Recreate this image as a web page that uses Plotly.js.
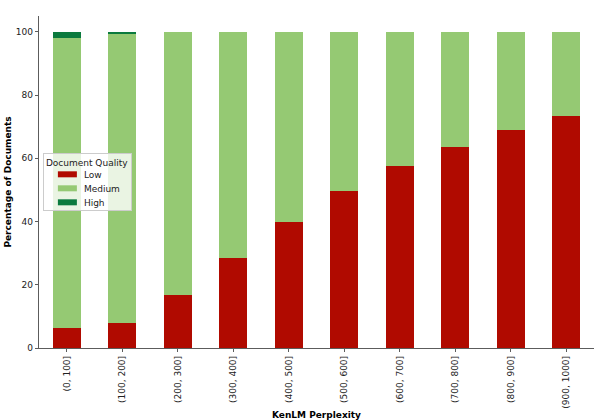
<!DOCTYPE html>
<html>
<head>
<meta charset="utf-8">
<script src="https://cdn.plot.ly/plotly-3.0.1.min.js"></script>
<style>html,body{margin:0;padding:0;background:#fff;}#chart{width:597px;height:420px;}</style>
</head>
<body>
<div id="chart"></div>
<script>
const categories = ["(0, 100]", "(100, 200]", "(200, 300]", "(300, 400]", "(400, 500]", "(500, 600]", "(600, 700]", "(700, 800]", "(800, 900]", "(900, 1000]"];
const lowValues = [6.2, 7.9, 16.9, 28.5, 39.8, 49.6, 57.6, 63.6, 68.8, 73.4];
const mediumValues = [91.9, 91.5, 82.9, 71.45, 60.2, 50.4, 42.4, 36.4, 31.2, 26.6];
const highValues = [1.9, 0.6, 0.2, 0.05, 0, 0, 0, 0, 0, 0];
const seriesNames = ["Low", "Medium", "High"];
const seriesColors = ["#b00a00", "#95c973", "#0b7a3e"];

const font = "DejaVu Sans, sans-serif";
const vals = [lowValues, mediumValues, highValues];
const traces = vals.map((v, i) => ({
  type: "bar",
  name: seriesNames[i],
  x: categories,
  y: v,
  width: 0.5,
  marker: {color: seriesColors[i], line: {width: 0}},
  hoverinfo: "skip"
}));

const layout = {
  width: 597, height: 420,
  barmode: "stack",
  margin: {l: 39, r: 3, t: 16, b: 72},
  paper_bgcolor: "#fff", plot_bgcolor: "#fff",
  font: {family: font, size: 9, color: "#000"},
  xaxis: {
    range: [-0.5, 9.5],
    tickangle: -90,
    ticks: "outside", ticklen: 3.5, tickcolor: "#333", tickwidth: 0.8,
    showline: true, linecolor: "#333", linewidth: 0.8,
    showgrid: false, zeroline: false,
    tickfont: {family: font, size: 9, color: "#222"},
    title: {text: "<b>KenLM Perplexity</b>", font: {family: font, size: 9, color: "#000"}, standoff: 7}
  },
  yaxis: {
    range: [0, 105],
    tickvals: [0, 20, 40, 60, 80, 100],
    ticks: "outside", ticklen: 3.5, tickcolor: "#333", tickwidth: 0.8,
    showline: true, linecolor: "#333", linewidth: 0.8,
    showgrid: false, zeroline: false,
    tickfont: {family: font, size: 9, color: "#222"},
    title: {text: "<b>Percentage of Documents</b>", font: {family: font, size: 9, color: "#000"}, standoff: 2}
  },
  legend: {
    x: 0.007, y: 0.587, xanchor: "left", yanchor: "top",
    bgcolor: "rgba(255,255,255,0.8)", bordercolor: "#ccc", borderwidth: 1,
    traceorder: "normal",
    title: {text: "Document Quality", font: {family: font, size: 9, color: "#222"}},
    font: {family: font, size: 9, color: "#222"},
    itemwidth: 30
  },
  showlegend: true
};

Plotly.newPlot("chart", traces, layout, {displayModeBar: false, staticPlot: true}).then(function (gd) {
  // compact legend spacing & matplotlib-like wide patches
  const items = gd.querySelectorAll(".legend .traces");
  const spacing = 14;
  let firstY = null;
  items.forEach(function (it, i) {
    const m = /translate\(([-\d.]+),\s*([-\d.]+)\)/.exec(it.getAttribute("transform") || "");
    if (!m) return;
    const x = parseFloat(m[1]);
    const y = parseFloat(m[2]);
    if (firstY === null) firstY = y - 6;
    it.setAttribute("transform", "translate(" + x + "," + (firstY + i * spacing) + ")");
    it.querySelectorAll(".legendpoints path").forEach(function (p) {
      p.setAttribute("d", "M13,3H-6V-3H13Z");
    });
  });
  const bg = gd.querySelector(".legend rect.bg");
  if (bg) {
    const h = parseFloat(bg.getAttribute("height"));
    bg.setAttribute("height", h - 23);
  }
});
</script>
</body>
</html>
